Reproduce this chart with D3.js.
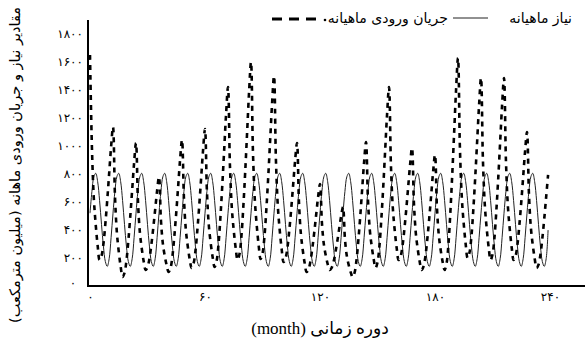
<!DOCTYPE html>
<html><head><meta charset="utf-8">
<script src="https://cdn.jsdelivr.net/npm/d3@7/dist/d3.min.js"></script>
<style>body{margin:0;background:#fff}svg{display:block}</style>
</head><body><svg id="chart" width="585" height="345"></svg>
<script>
// monthly demand (million m3), months 0..239
const demand = [
520,675,780,805,745,610,440,285,175,140,195,345,
520,675,780,805,745,610,440,285,175,140,195,345,
520,675,780,805,745,610,440,285,175,140,195,345,
520,675,780,805,745,610,440,285,175,140,195,345,
520,675,780,805,745,610,440,285,175,140,195,345,
520,675,780,805,745,610,440,285,175,140,195,345,
520,675,780,805,745,610,440,285,175,140,195,345,
520,675,780,805,745,610,440,285,175,140,195,345,
520,675,780,805,745,610,440,285,175,140,195,345,
520,675,780,805,745,610,440,285,175,140,195,345,
520,675,780,805,745,610,440,285,175,140,195,345,
520,675,780,805,745,610,440,285,175,140,195,345,
520,675,780,805,745,610,440,285,175,140,195,345,
520,675,780,805,745,610,440,285,175,140,195,345,
520,675,780,805,745,610,440,285,175,140,195,345,
520,675,780,805,745,610,440,285,175,140,195,345,
520,675,780,805,745,610,440,285,175,140,195,345,
520,675,780,805,745,610,440,285,175,140,195,345,
520,675,780,805,745,610,440,285,175,140,195,345,
520,675,780,805,745,610,440,285,175,140,195,400
];
// monthly inflow (million m3), months 0..239
const inflow = [
1650,991,625,435,288,186,215,300,443,614,804,994,
1136,654,386,246,139,64,93,179,322,495,686,877,
1021,613,386,268,177,114,134,194,294,413,546,679,
779,473,304,215,148,100,128,213,355,524,713,902,
1043,632,403,284,193,129,159,248,397,575,774,972,
1121,678,432,303,205,136,175,290,483,714,971,1228,
1421,865,557,396,272,186,228,356,568,822,1105,1388,
1600,967,615,432,291,193,232,350,546,781,1043,1304,
1500,902,570,397,264,171,197,273,401,554,724,894,
1021,607,376,257,164,100,119,175,270,383,509,635,
729,452,299,219,157,114,128,168,236,317,407,497,
564,339,214,149,99,64,93,180,325,498,691,884,
1029,624,399,282,192,129,168,284,478,710,969,1227,
1421,865,557,396,272,186,210,282,402,546,706,866,
986,594,376,262,175,114,139,213,336,484,648,813,
936,566,361,254,172,114,159,296,523,796,1099,1402,
1629,986,629,443,300,200,239,354,547,779,1036,1293,
1486,901,576,407,277,186,225,342,537,771,1031,1291,
1486,901,576,407,277,186,213,296,433,597,780,963,
1100,663,420,294,197,129,152,223,340,480,637,793
];
const xTicks = [0, 60, 120, 180, 240];
const xTickLabels = ["۰", "۶۰", "۱۲۰", "۱۸۰", "۲۴۰"];
const yTicks = [0, 200, 400, 600, 800, 1000, 1200, 1400, 1600, 1800];
const yTickLabels = ["۰", "۲۰۰", "۴۰۰", "۶۰۰", "۸۰۰", "۱۰۰۰", "۱۲۰۰", "۱۴۰۰", "۱۶۰۰", "۱۸۰۰"];
const legendDemand = "نیاز ماهیانه";
const legendInflow = "جریان ورودی ماهیانه";
const xTitle = "دوره زمانی (month)";
const yTitle = "مقادیر نیاز و جریان ورودی ماهانه (میلیون مترمکعب)";

const svg = d3.select("#chart");
svg.append("rect").attr("width",585).attr("height",345).attr("fill","#fff");
const FONT = "'DejaVu Sans', sans-serif";

const x = d3.scaleLinear().domain([0,240]).range([90,550]);
const y = d3.scaleLinear().domain([0,1800]).range([286,34]);

// axis lines
svg.append("line").attr("x1",88).attr("x2",88).attr("y1",20).attr("y2",287)
  .attr("stroke","#000").attr("stroke-width",2);
svg.append("line").attr("x1",87).attr("x2",585).attr("y1",286).attr("y2",286)
  .attr("stroke","#000").attr("stroke-width",2);

// y axis labels
const yAx = svg.append("g").attr("transform","translate(84,0)")
  .call(d3.axisLeft(y).tickValues(yTicks).tickSize(0).tickPadding(1)
    .tickFormat((d,i)=>yTickLabels[i]));
yAx.select(".domain").remove();
yAx.selectAll("text").attr("font-family",FONT).attr("font-size",12).attr("fill","#000")
  .attr("direction","ltr");
yAx.selectAll("text").filter(d=>d===0).attr("text-anchor","middle").attr("x",-11).attr("dy","0.05em");

// x axis labels
const xAx = svg.append("g").attr("transform","translate(0,292)")
  .call(d3.axisBottom(x).tickValues(xTicks).tickSize(0).tickPadding(0)
    .tickFormat((d,i)=>xTickLabels[i]));
xAx.select(".domain").remove();
xAx.selectAll("text").attr("font-family",FONT).attr("font-size",12).attr("fill","#000")
  .attr("direction","ltr");

// lines
const line = d3.line().x((d,i)=>x(i)).y(d=>y(d)).curve(d3.curveCatmullRom);
svg.append("path").datum(demand).attr("d",line).attr("fill","none")
  .attr("stroke","#222").attr("stroke-width",1);
svg.append("path").datum(inflow).attr("d",line).attr("fill","none")
  .attr("stroke","#000").attr("stroke-width",2.6).attr("stroke-dasharray","5,5");

// legend
svg.append("text").attr("x",572).attr("y",23).attr("text-anchor","start").attr("direction","rtl")
  .attr("font-family",FONT).attr("font-size",14).text(legendDemand);
svg.append("line").attr("x1",453).attr("x2",488).attr("y1",18).attr("y2",18)
  .attr("stroke","#222").attr("stroke-width",1);
svg.append("text").attr("x",448).attr("y",23).attr("text-anchor","start").attr("direction","rtl")
  .attr("font-family",FONT).attr("font-size",14).text(legendInflow);
svg.append("line").attr("x1",272).attr("x2",316).attr("y1",19).attr("y2",19)
  .attr("stroke","#000").attr("stroke-width",3).attr("stroke-dasharray","10,7");
svg.append("circle").attr("cx",325).attr("cy",20).attr("r",1.3).attr("fill","#000");

// axis titles
svg.append("text").attr("x",320).attr("y",334).attr("text-anchor","middle")
  .attr("font-family","'Liberation Serif', 'DejaVu Sans', serif").attr("font-size",17)
  .attr("direction","rtl").text(xTitle);
svg.append("text").attr("transform","translate(20,165) rotate(-90)").attr("text-anchor","middle")
  .attr("font-family",FONT).attr("font-size",14.5).attr("direction","rtl").text(yTitle);
</script></body></html>
